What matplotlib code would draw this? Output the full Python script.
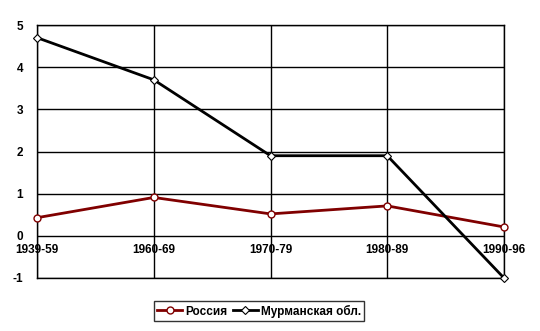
import matplotlib
matplotlib.use("Agg")
import matplotlib.pyplot as plt

periods = ["1939-59", "1960-69", "1970-79", "1980-89", "1990-96"]
russia = [0.43, 0.91, 0.52, 0.71, 0.21]
murmansk = [4.7, 3.7, 1.9, 1.9, -1.0]
yticks = [-1, 0, 1, 2, 3, 4, 5]

plt.rcParams["font.family"] = ["Liberation Sans", "DejaVu Sans"]
plt.rcParams["font.weight"] = "bold"

fig = plt.figure(figsize=(5.4, 3.31), dpi=100)
ax = fig.add_axes([37 / 540, 53 / 331, 467 / 540, 253 / 331])

x = list(range(len(periods)))
ax.plot(x, russia, color="#800000", lw=2, marker="o", ms=5,
        mfc="white", mec="#800000", mew=1, label="Россия", zorder=4,
        clip_on=False)
ax.plot(x, murmansk, color="black", lw=2, marker="D", ms=4.5,
        mfc="white", mec="black", mew=0.8, label="Мурманская обл.", zorder=4,
        clip_on=False)

ax.set_xlim(0, len(periods) - 1)
ax.set_ylim(-1, 5)
ax.set_yticks(yticks)
ax.set_yticklabels([str(v) for v in yticks], fontsize=8.5, fontweight="bold")
ax.set_xticks(x)
ax.set_xticklabels([])
ax.tick_params(axis="both", length=0)
ax.tick_params(axis="y", pad=10)

for i, p in enumerate(periods):
    ax.text(i, -0.33, p, ha="center", va="center", fontsize=8.5,
            fontweight="bold", zorder=0.1)

ax.set_axisbelow(False)
ax.grid(True, color="black", lw=1)
for s in ["top", "bottom", "left", "right"]:
    ax.spines[s].set_color("black")
    ax.spines[s].set_linewidth(1)

leg = fig.legend(loc="center", bbox_to_anchor=(259 / 540, 1 - 311 / 331),
                 ncol=2, frameon=True, fancybox=False,
                 handlelength=2.1, handletextpad=0.25, columnspacing=0.5,
                 borderpad=0.3, borderaxespad=0, prop={"weight": "bold", "size": 8.5})
leg.get_frame().set_edgecolor("black")
leg.get_frame().set_linewidth(1)

fig.savefig("out.png", dpi=100)
